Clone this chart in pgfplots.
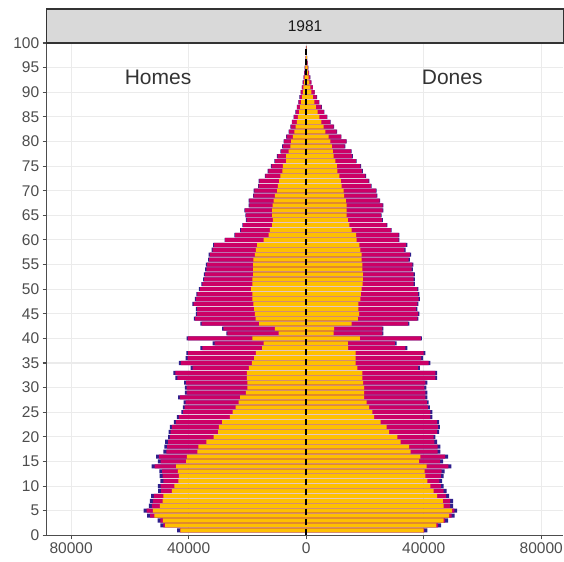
\documentclass[border=0pt]{standalone}
\usepackage{pgfplots}
\usepackage{pgfplotstable}
\pgfplotsset{compat=1.18}
\usepackage{fontspec}
\setmainfont{Liberation Sans}

\definecolor{cOrange}{HTML}{FFC000}
\definecolor{cMagenta}{HTML}{CC0066}
\definecolor{cBlue}{HTML}{2E1F8C}
\definecolor{cGrid}{HTML}{EBEBEB}
\definecolor{cAxis}{HTML}{4D4D4D}
\definecolor{cStrip}{HTML}{D9D9D9}
\definecolor{cStripBorder}{HTML}{333333}

% age, men orange end, men total, women orange end, women total, blue width
\pgfplotstableread{
age mo    mt    fo    ft    b
1   42800 43900 40000 41200 1000
2   48000 49600 44300 45900 1000
3   48800 50600 46800 48300 1000
4   51700 54100 48600 50500 1000
5   52200 55300 49700 51400 1000
6   49800 53500 46800 50000 1000
7   48900 53200 46500 50000 1000
8   48600 52800 44600 48600 1000
9   45700 50400 43400 47800 1000
10  44900 50500 42300 46800 1000
11  43500 49600 41200 46300 1000
12  43300 49900 40600 46800 1000
13  43700 50000 40300 47100 1000
14  44300 52600 41000 49400 1000
15  40900 50500 38400 46600 1000
16  40600 51100 38900 48300 1000
17  37000 48600 35500 45700 1000
18  36700 48300 35000 45700 1000
19  34000 48000 32100 44600 1000
20  31500 47000 31000 44000 650
21  30000 46800 28200 45200 650
22  29700 46400 27400 45500 650
23  28600 45000 25300 45200 650
24  26000 44000 23100 42900 650
25  25000 42500 22500 42900 650
26  24000 42000 21400 42100 650
27  23000 41700 20600 41700 650
28  22500 43600 19700 41200 650
29  20500 41300 19700 41200 650
30  20000 41300 19700 40900 650
31  20000 41500 19400 41200 650
32  20200 44500 19100 44600 650
33  20200 45200 19100 44600 650
34  19500 39300 17400 38700 650
35  18500 43300 16800 42300 650
36  17700 41000 16800 39800 650
37  17100 40800 16800 40600 650
38  15000 36000 14300 34400 650
39  14500 31800 14200 30800 650
40  18300 40700 18300 39400 400
41  9400  27200 9300  26300 400
42  10700 28600 9500  26300 400
43  16000 36000 15500 35100 400
44  17200 38200 17600 38200 400
45  17500 37500 18000 38500 400
46  17700 37500 17800 37800 400
47  18000 38700 17800 38200 400
48  18300 37900 18400 38700 400
49  18300 37400 18600 38500 400
50  18700 36500 18900 38200 400
51  18300 35700 19200 37000 400
52  18300 35100 19300 37000 400
53  18100 34800 19300 37000 400
54  18100 34400 19100 36300 400
55  18100 34100 19100 36500 400
56  18000 33400 18900 35300 400
57  17500 33200 18900 35700 400
58  17100 32200 18400 33800 400
59  16700 31700 18100 34400 400
60  14500 27800 17200 31700 250
61  12800 24400 17000 31700 250
62  12400 22500 15500 29100 250
63  11600 21700 14700 27600 250
64  11300 20500 14200 26100 250
65  11600 20700 13800 25700 250
66  11600 21000 13800 26300 250
67  11400 19600 13800 26300 250
68  11100 19600 13500 25200 250
69  10700 18100 12900 24200 250
70  9900  17900 12700 24000 250
71  9600  16400 12100 22300 250
72  9200  16200 11800 21500 250
73  8800  14100 11300 20400 250
74  8100  13100 10600 19300 250
75  7900  12000 10400 18700 250
76  6800  10800 9900  17200 250
77  6800  10000 9300  15900 250
78  6000  8800  9100  15500 250
79  5400  8200  8700  13300 250
80  5100  7700  8200  13800 150
81  4500  6800  7600  12000 150
82  4000  6000  6500  10500 150
83  3600  5400  5900  9500  150
84  3200  4900  5200  8300  150
85  2800  4300  4500  7200  150
86  2400  3700  3900  6200  150
87  2050  3200  3300  5300  150
88  1700  2700  2800  4500  150
89  1400  2300  2300  3700  150
90  1150  1900  1800  2900  50
91  920   1500  1450  2300  50
92  720   1200  1100  1800  50
93  550   900   850   1400  50
94  400   680   620   1000  50
95  290   500   450   720   50
96  200   350   310   500   50
97  130   230   210   340   50
98  85    150   140   220   50
99  50    90    90    140   50
}\pyramid

\begin{document}
\begin{tikzpicture}
\begin{axis}[
  name=ax,
  scale only axis,
  width=516.3pt, height=492pt,
  xmin=-88300, xmax=87500,
  ymin=0, ymax=100,
  enlargelimits=false,
  axis x line*=bottom,
  axis y line*=left,
  axis line style={cAxis, line width=1.1pt},
  xtick={-80000,-40000,0,40000,80000},
  xticklabels={80000,40000,0,40000,80000},
  scaled x ticks=false,
  ytick={0,5,...,100},
  tick align=outside,
  major tick length=4pt,
  tick style={cAxis, line width=1.1pt},
  grid=major,
  major grid style={cGrid, line width=1.1pt},
  ticklabel style={font=\fontsize{15.5}{18}\selectfont, text=cAxis},
  /pgf/number format/assume math mode=true,
  xbar, bar shift=0pt, bar width=0.82,
  clip=true,
]
% Homes (left)
\addplot[draw=none, fill=cBlue] table[x expr=-\thisrow{mt}, y=age] {\pyramid};
\addplot[draw=none, fill=cMagenta] table[x expr=-(\thisrow{mt}-\thisrow{b}), y=age] {\pyramid};
\addplot[draw=none, fill=cOrange] table[x expr=-\thisrow{mo}, y=age] {\pyramid};
% Dones (right)
\addplot[draw=none, fill=cBlue] table[x=ft, y=age] {\pyramid};
\addplot[draw=none, fill=cMagenta] table[x expr=\thisrow{ft}-\thisrow{b}, y=age] {\pyramid};
\addplot[draw=none, fill=cOrange] table[x=fo, y=age] {\pyramid};

\draw[black, line width=1.4pt, dash pattern=on 6pt off 4pt] (axis cs:0,0) -- (axis cs:0,99);
\node[text=black!80, font=\fontsize{21}{24}\selectfont] at (axis cs:-50400,93.1) {Homes};
\node[text=black!80, font=\fontsize{21}{24}\selectfont] at (axis cs:49700,93.1) {Dones};
\end{axis}
\draw[fill=cStrip, draw=cStripBorder, line width=1.2pt] (ax.north west) rectangle ([yshift=34pt]ax.north east);
\node[font=\fontsize{15.5}{18}\selectfont, text=black!90] at ([yshift=17pt]ax.north) {1981};
\pgfresetboundingbox
\useasboundingbox ([xshift=-46.7pt, yshift=-26pt]ax.south west) rectangle ([xshift=0.7pt, yshift=43pt]ax.north east);
\end{tikzpicture}
\end{document}
